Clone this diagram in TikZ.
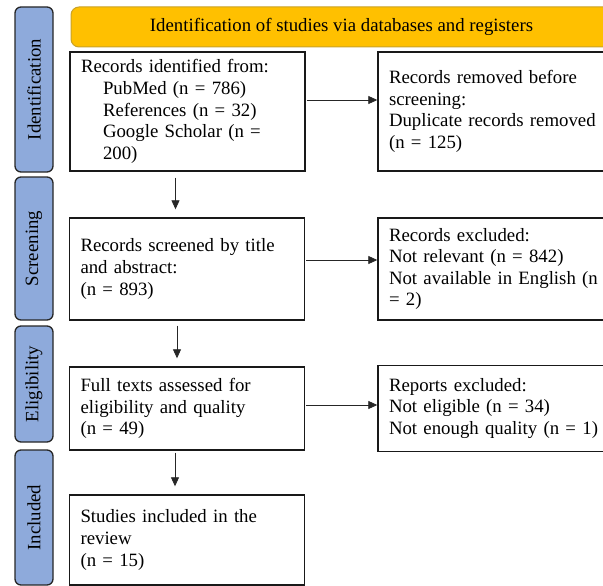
\documentclass[tikz,border=0pt]{standalone}
\usepackage{fontspec}
\setmainfont{Liberation Serif}
\usetikzlibrary{arrows.meta}
\definecolor{pillblue}{HTML}{8EAADB}
\definecolor{headorange}{HTML}{FFC000}
\definecolor{headgold}{HTML}{C9A227}
\begin{document}
\begin{tikzpicture}[x=1pt,y=-1pt,
  font=\fontsize{18.8}{21.6}\selectfont,
  stage/.style={draw=black!85,line width=1.3pt,fill=pillblue,rounded corners=6pt,
    rotate=90,minimum height=38pt,inner sep=0pt},
  lbox/.style={draw=black!90,line width=1.4pt,align=left,text width=213pt,
    inner xsep=11pt,minimum width=235pt},
  rbox/.style={lbox,text width=218pt,minimum width=240pt},
  flow/.style={-{Triangle[length=9pt,width=8pt]},line width=0.8pt,black!85}]
\clip (0,0) rectangle (603,586);
% stages on the left
\node[stage,minimum width=165pt] (idstage) at (34,89.5) {Identification};
\node[stage,minimum width=143pt] (scrstage) at (34,248.5) {Screening};
\node[stage,minimum width=116pt] (eligstage) at (34,384) {Eligibility};
\node[stage,minimum width=135pt] (inclstage) at (34,517.5) {Included};
% header
\node[draw=headgold,fill=headorange,rounded corners=8pt,line width=1pt,
  minimum width=541pt,minimum height=40pt] (head) at (341.5,27)
  {Identification of studies via databases and registers};
% main boxes
\node[lbox,minimum height=119pt] (ident) at (187.5,111.5)
  {Records identified from:\\
   \hspace*{22pt}PubMed (n = 786)\\
   \hspace*{22pt}References (n = 32)\\
   \hspace*{22pt}Google Scholar (n =\\
   \hspace*{22pt}200)};
\node[lbox,minimum height=102pt] (screened) at (187,269)
  {Records screened by title\\ and abstract:\\ (n = 893)};
\node[lbox,minimum height=83pt] (fulltext) at (187,408.5)
  {Full texts assessed for\\ eligibility and quality\\ (n = 49)};
\node[lbox,minimum height=90pt] (included) at (187,540)
  {Studies included in the\\ review\\ (n = 15)};
% side boxes
\node[rbox,minimum height=119pt] (removed) at (498,111.5)
  {Records removed before\\ screening:\\ Duplicate records removed\\ (n = 125)};
\node[rbox,minimum height=102pt] (excluded) at (498,269)
  {Records excluded:\\ Not relevant (n = 842)\\ Not available in English (n\\ = 2)};
\node[rbox,minimum height=86pt] (reports) at (498,408.5)
  {Reports excluded:\\ Not eligible (n = 34)\\ Not enough quality (n = 1)};
% arrows
\draw[flow,shorten <=1pt] ([yshift=11.5pt]ident.east) -- ([yshift=11.5pt]removed.west);
\draw[flow,shorten <=1pt] ([yshift=9pt]screened.east) -- ([yshift=9pt]excluded.west);
\draw[flow,shorten <=1pt] ([yshift=3.5pt]fulltext.east) -- ([yshift=3.5pt]reports.west);
\draw[flow,shorten <=6pt,shorten >=8pt] ([xshift=-12pt]ident.south) -- ([xshift=-12pt]ident.south |- screened.north);
\draw[flow,shorten <=5pt,shorten >=8pt] ([xshift=-10pt]screened.south) -- ([xshift=-10pt]screened.south |- fulltext.north);
\draw[flow,shorten <=2pt,shorten >=8pt] ([xshift=-12pt]fulltext.south) -- ([xshift=-12pt]fulltext.south |- included.north);
\end{tikzpicture}
\end{document}
